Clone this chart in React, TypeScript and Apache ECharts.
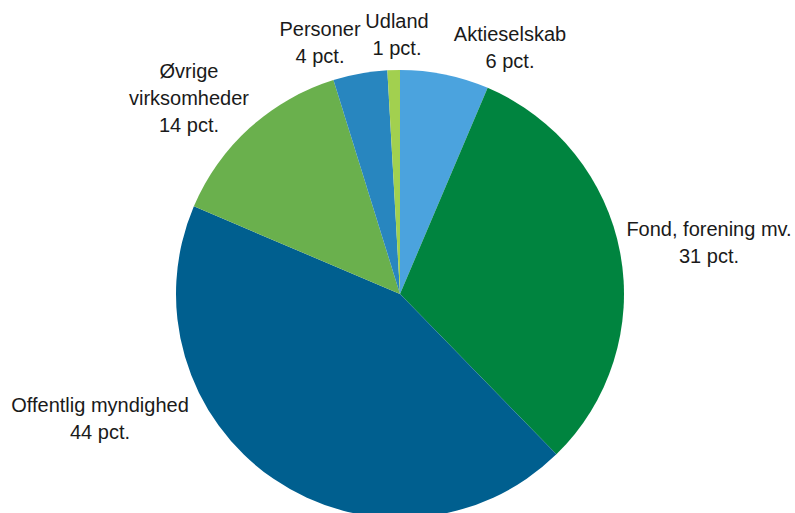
import React, { useEffect, useRef } from "react";
import * as echarts from "echarts";

const categories = [
  "Aktieselskab",
  "Fond, forening mv.",
  "Offentlig myndighed",
  "Øvrige\nvirksomheder",
  "Personer",
  "Udland",
];
const values = [6.4, 31.3, 43.7, 13.8, 3.9, 0.9];
const colors = ["#4BA3DE", "#00843F", "#005F8F", "#6AB04D", "#2886BF", "#A2D04F"];

// label anchor points (layout only)
const labelAnchors: [number, number][] = [
  [510, 47],
  [709, 242],
  [100, 418],
  [189, 98],
  [320, 42],
  [397, 34],
];

export default function App() {
  const ref = useRef<HTMLDivElement>(null);
  useEffect(() => {
    if (!ref.current) return;
    const chart = echarts.init(ref.current, null, { renderer: "svg" });
    chart.setOption({
      animation: false,
      backgroundColor: "#ffffff",
      series: [
        {
          type: "pie",
          center: [400, 294],
          radius: 224,
          startAngle: 90,
          clockwise: true,
          avoidLabelOverlap: false,
          itemStyle: { borderWidth: 0 },
          label: {
            show: true,
            position: "outside",
            formatter: (p: any) => `${p.name}\n${Math.round(p.value)} pct.`,
            fontFamily: "'Liberation Sans Narrow', 'Arial Narrow', 'Liberation Sans', Arial, sans-serif",
            fontSize: 20,
            lineHeight: 27,
            color: "#1a1a1a",
            align: "center",
          },
          labelLine: { show: false },
          labelLayout: (params: any) => {
            const a = labelAnchors[params.dataIndex];
            return { x: a[0], y: a[1], align: "center", verticalAlign: "middle" };
          },
          emphasis: { disabled: true },
          data: categories.map((c, i) => ({
            name: c,
            value: values[i],
            itemStyle: { color: colors[i] },
          })),
        },
      ],
    });
    return () => chart.dispose();
  }, []);
  return (
    <div
      ref={ref}
      style={{ position: "fixed", left: 0, top: 0, width: 795, height: 513 }}
    />
  );
}
